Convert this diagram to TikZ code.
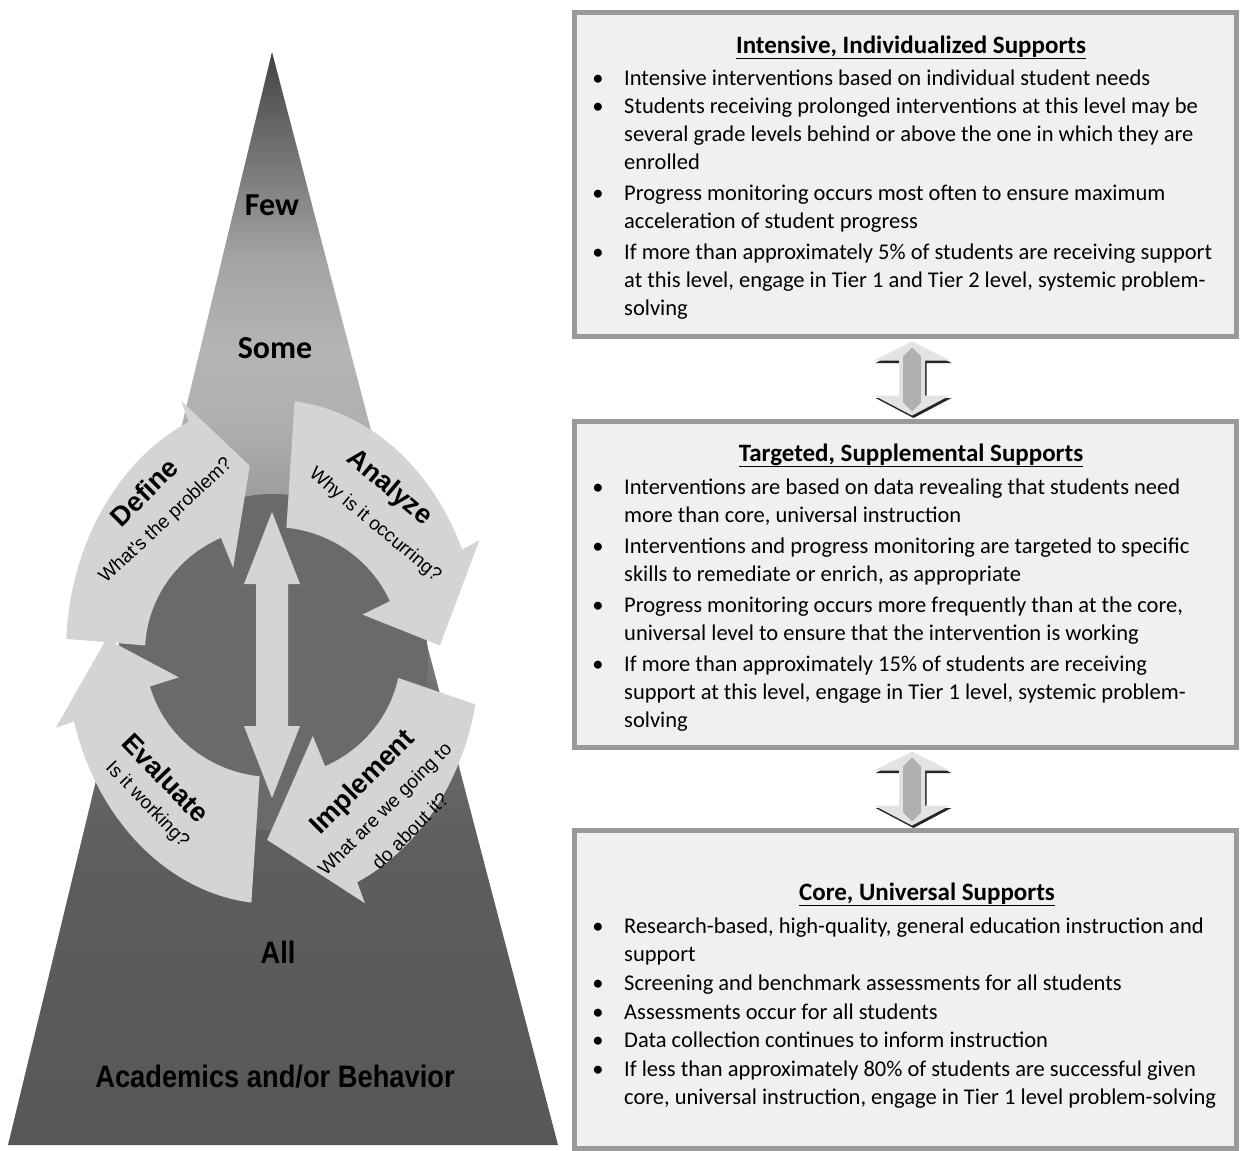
\documentclass[tikz,border=0pt]{standalone}
\usepackage{fontspec}
\setmainfont{Carlito}
\newfontfamily\arialf{Liberation Sans}
\newfontfamily\narrowf[FakeStretch=0.88]{Liberation Sans}
\usetikzlibrary{calc}
\definecolor{arrowfill}{HTML}{D4D4D4}
\definecolor{circfill}{HTML}{6A6A6A}
\definecolor{boxfill}{HTML}{F0F0F0}
\definecolor{boxline}{HTML}{9A9A9A}
\definecolor{pyA}{HTML}{444444}
\definecolor{pyB}{HTML}{8A8A8A}
\definecolor{pyC}{HTML}{A4A4A4}
\definecolor{pyD}{HTML}{B4B4B4}
\definecolor{pyE}{HTML}{B0B0B0}
\definecolor{pyF}{HTML}{959595}
\definecolor{pyG}{HTML}{6E6E6E}
\definecolor{pyH}{HTML}{5E5E5E}
\definecolor{pyI}{HTML}{575757}
% vertical shading: 25bp = pyramid base (y=1145), 75bp = apex (y=52)
\pgfdeclareverticalshading{pyrshade}{100bp}{%
  color(0bp)=(pyI); color(25bp)=(pyI); color(38.5bp)=(pyH); color(45.4bp)=(pyG);
  color(53.1bp)=(pyF); color(58.2bp)=(pyE); color(61.4bp)=(pyD); color(65.5bp)=(pyC);
  color(68bp)=(pyB); color(75bp)=(pyA); color(100bp)=(pyA)}
\tikzset{
  panel/.style={draw=boxline, line width=5pt, fill=boxfill, inner sep=0pt},
  bodytext/.style={anchor=base west, inner sep=0pt, font=\fontsize{22.5}{28}\selectfont},
  bul/.style={anchor=base, inner sep=0pt, font=\fontsize{22.5}{28}\selectfont},
  paneltitle/.style={anchor=base, inner sep=0pt, font=\fontsize{25}{30}\selectfont\bfseries},
  cyctitle/.style={inner sep=0pt, font=\arialf\fontsize{27}{30}\selectfont\bfseries},
  cycsub/.style={inner sep=0pt, font=\arialf\fontsize{19}{22}\selectfont},
  tier/.style={inner sep=0pt, font=\fontsize{32}{36}\selectfont\bfseries},
  baselbl/.style={inner sep=0pt, font=\narrowf\fontsize{31}{34}\selectfont\bfseries},
  tierarrow/.pic={
    \fill[black!85, shift={(1.5,2.5)}] (0,-37) -- (38,-18) -- (13,-18) -- (13,17) -- (38,17) -- (0,37) -- (-38,17) -- (-13,17) -- (-13,-18) -- (-38,-18) -- cycle;
    \fill[gray!22] (0,-37) -- (38,-18) -- (13,-18) -- (13,17) -- (38,17) -- (0,37) -- (-38,17) -- (-13,17) -- (-13,-18) -- (-38,-18) -- cycle;
    \fill[gray!62] (0,-31) -- (9,-22) -- (9,24) -- (0,33) -- (-9,24) -- (-9,-22) -- cycle;
  }
}
% cycle arrow: #1 tail angle, #2 head base angle, #3 tip angle (screen, clockwise)
\newcommand{\cyclearrow}[3]{%
  \fill[arrowfill] ({#1}:207 and 252) arc[start angle={#1}, end angle={#2}, x radius=207, y radius=252]
    -- ({#2}:226 and 275) -- ({#3}:167 and 188) -- ({#2}:98 and 92) -- ({#2}:128 and 125)
    arc[start angle={#2}, end angle={#1}, x radius=128, y radius=125] -- cycle;}
\begin{document}
\begin{tikzpicture}[x=1pt, y=-1pt]
\useasboundingbox (0,0) rectangle (1243,1151);
\fill[white] (0,0) rectangle (1243,1151);

% ---------- pyramid ----------
\coordinate (apex) at (272,52);
\coordinate (bl) at (8,1145);
\coordinate (br) at (558,1145);
\shade[shading=pyrshade] (apex) -- (br) -- (bl) -- cycle;

% ---------- cycle ----------
\fill[circfill] (273,662) ellipse [x radius=155, y radius=168];
\begin{scope}[shift={(273,652)}]
  \cyclearrow{183}{246}{262}
  \cyclearrow{276}{336}{358}
  \cyclearrow{12}{66}{92}
  \cyclearrow{96}{164}{184}
\end{scope}
% central double arrow
\fill[arrowfill] (272,512) -- (300,584) -- (288,584) -- (288,726) -- (300,726) -- (272,798)
  -- (244,726) -- (256,726) -- (256,584) -- (244,584) -- cycle;

% cycle labels
\node[cyctitle, rotate=45] (def) at (144,492) {Define};
\node[cycsub, rotate=43] (defs) at (166,521) {What's the problem?};
\node[cyctitle, rotate=-40] (ana) at (389,488) {Analyze};
\node[cycsub, rotate=-40] (anas) at (375,525) {Why is it occurring?};
\node[cyctitle, rotate=-46] (eva) at (166,778) {Evaluate};
\node[cycsub, rotate=-46] (evas) at (147,805) {Is it working?};
\node[cyctitle, rotate=45] (imp) at (363,783) {Implement};
\node[cycsub, rotate=45] (imps1) at (386,810) {What are we going to};
\node[cycsub, rotate=45] (imps2) at (410,831) {do about it?};

% pyramid labels
\node[tier] (few) at (272,205) {Few};
\node[tier] (some) at (275,348) {Some};
\node[baselbl] (all) at (278,952) {All};
\node[baselbl] (acad) at (275,1077) {Academics and/or Behavior};

% ---------- panels ----------
\node[panel, minimum width=662, minimum height=324] (box1) at (905,174) {};
\node[panel, minimum width=662, minimum height=326] (box2) at (905,584) {};
\node[panel, minimum width=662, minimum height=318] (box3) at (905,989) {};

\coordinate (m1) at ($(box1.south)!0.5!(box2.north)$);
\coordinate (m2) at ($(box2.south)!0.5!(box3.north)$);
\pic at ([xshift=7pt]m1) {tierarrow};
\pic at ([xshift=7pt]m2) {tierarrow};

% titles
\node[paneltitle] (t1) at (911,53) {\underline{Intensive, Individualized Supports}};
\node[paneltitle] (t2) at (911,461) {\underline{Targeted, Supplemental Supports}};
\node[paneltitle] (t3) at (927,900) {\underline{Core, Universal Supports}};

% box 1 text
\foreach \yy/\txt [count=\i] in {
  85/{Intensive interventions based on individual student needs},
  113/{Students receiving prolonged interventions at this level may be},
  141/{several grade levels behind or above the one in which they are},
  169/{enrolled},
  200/{Progress monitoring occurs most often to ensure maximum},
  228/{acceleration of student progress},
  259/{If more than approximately 5\% of students are receiving support},
  287/{at this level, engage in Tier 1 and Tier 2 level, systemic problem-},
  315/{solving}}
  \node[bodytext] (la\i) at (624,\yy) {\txt};
\foreach \yy [count=\i] in {85,113,200,259}
  \node[bul] (ba\i) at (598,\yy) {\textbullet};

% box 2 text
\foreach \yy/\txt [count=\i] in {
  494/{Interventions are based on data revealing that students need},
  522/{more than core, universal instruction},
  553/{Interventions and progress monitoring are targeted to specific},
  581/{skills to remediate or enrich, as appropriate},
  612/{Progress monitoring occurs more frequently than at the core,},
  640/{universal level to ensure that the intervention is working},
  671/{If more than approximately 15\% of students are receiving},
  699/{support at this level, engage in Tier 1 level, systemic problem-},
  727/{solving}}
  \node[bodytext] (lb\i) at (624,\yy) {\txt};
\foreach \yy [count=\i] in {494,553,612,671}
  \node[bul] (bb\i) at (598,\yy) {\textbullet};

% box 3 text
\foreach \yy/\txt [count=\i] in {
  933/{Research-based, high-quality, general education instruction and},
  961/{support},
  990/{Screening and benchmark assessments for all students},
  1019/{Assessments occur for all students},
  1047/{Data collection continues to inform instruction},
  1076/{If less than approximately 80\% of students are successful given},
  1104/{core, universal instruction, engage in Tier 1 level problem-solving}}
  \node[bodytext] (lc\i) at (624,\yy) {\txt};
\foreach \yy [count=\i] in {933,990,1019,1047,1076}
  \node[bul] (bc\i) at (598,\yy) {\textbullet};
\end{tikzpicture}
\end{document}
